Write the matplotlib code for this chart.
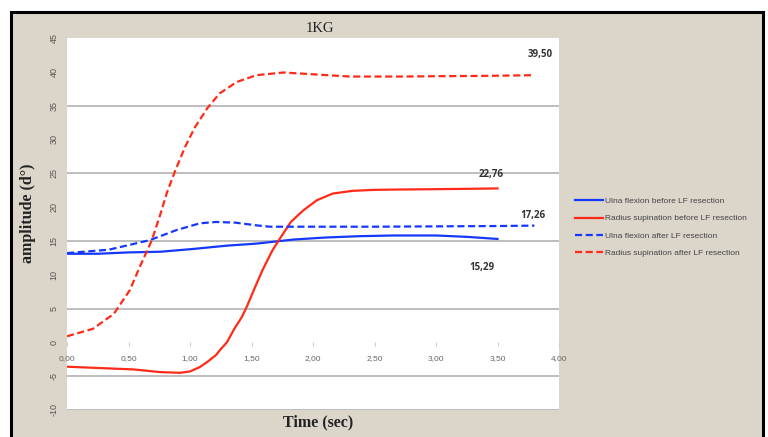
import matplotlib
matplotlib.use("Agg")
import matplotlib.pyplot as plt
from matplotlib.patches import Rectangle
from matplotlib.ticker import FuncFormatter

plt.rcParams["axes.unicode_minus"] = False

# series (time in sec, amplitude in degrees)
ulna_before_t = [0, 0.25, 0.5, 0.76, 1.02, 1.30, 1.54, 1.84, 2.1, 2.38, 2.65, 3.0, 3.25, 3.5]
ulna_before = [13.1, 13.1, 13.3, 13.4, 13.8, 14.3, 14.6, 15.2, 15.5, 15.7, 15.8, 15.8, 15.6, 15.29]

radius_before_t = [0, 0.27, 0.54, 0.76, 0.92, 1.0, 1.08, 1.14, 1.21, 1.25, 1.30, 1.36, 1.42,
                   1.46, 1.53, 1.59, 1.67, 1.74, 1.82, 1.92, 2.03, 2.16, 2.32, 2.5, 2.71,
                   3.0, 3.25, 3.5]
radius_before = [-3.6, -3.8, -4.0, -4.4, -4.5, -4.3, -3.65, -2.9, -1.9, -1.0, 0.0, 2.0, 3.7,
                 5.2, 8.2, 10.7, 13.6, 15.6, 17.8, 19.5, 21.0, 22.0, 22.4, 22.55, 22.6,
                 22.65, 22.7, 22.76]

ulna_after_t = [0, 0.34, 0.67, 0.89, 1.08, 1.21, 1.37, 1.54, 1.65, 2.0, 2.5, 3.0, 3.5, 3.8]
ulna_after = [13.2, 13.7, 15.1, 16.6, 17.6, 17.8, 17.7, 17.3, 17.1,
              17.1, 17.1, 17.15, 17.2, 17.26]

radius_after_t = [0, 0.21, 0.38, 0.51, 0.59, 0.69, 0.76, 0.81, 0.88, 0.96, 1.04, 1.14, 1.24,
                  1.38, 1.54, 1.76, 2.03, 2.3, 2.71, 3.0, 3.4, 3.79]
radius_after = [0.9, 2.0, 4.2, 7.7, 11.1, 15.1, 19.0, 22.0, 25.4, 28.9, 31.8, 34.6, 36.8,
                38.5, 39.5, 39.9, 39.6, 39.3, 39.3, 39.35, 39.4, 39.5]

labels = ["Ulna flexion before LF resection", "Radius supination before LF resection",
          "Ulna flexion after LF resection", "Radius supination after LF resection"]

# end values written next to the curves: (text, x, y)
end_labels = [("39,50", 3.85, 42.5), ("22,76", 3.45, 24.8),
              ("17,26", 3.79, 18.8), ("15,29", 3.37, 11.1)]

x_ticks = [0, 0.5, 1.0, 1.5, 2.0, 2.5, 3.0, 3.5, 4.0]
y_ticks = [-10, -5, 0, 5, 10, 15, 20, 25, 30, 35, 40, 45]
grid_lines = [-10, -5, 5, 15, 25, 35]

BLUE = "#1538ff"
RED = "#ff2a17"
BEIGE = "#dcd5ca"

fig = plt.figure(figsize=(7.68, 4.37), dpi=100)
fig.patch.set_facecolor("white")

# textured-paper panel with black frame
frame = Rectangle((11 / 768, -0.1), (763 - 11) / 768, 1 - 12 / 437 + 0.1,
                  transform=fig.transFigure, facecolor=BEIGE, edgecolor="black",
                  linewidth=2.2, zorder=-5)
fig.patches.append(frame)

ax = fig.add_axes([67 / 768, 1 - 410 / 437, (559 - 67) / 768, (410 - 38) / 437])
ax.set_zorder(2)
ax.set_facecolor("white")
ax.set_xlim(0, 4)
ax.set_ylim(-10, 45)

for g in grid_lines:
    ax.axhline(g, color="#b9b9b9", lw=1.3, zorder=1)

dash = (0, (3.2, 1.6))
ax.plot(ulna_before_t, ulna_before, color=BLUE, lw=1.6, label=labels[0], zorder=3)
ax.plot(radius_before_t, radius_before, color=RED, lw=1.6, label=labels[1], zorder=3)
ax.plot(ulna_after_t, ulna_after, color=BLUE, lw=1.6, ls=dash, label=labels[2], zorder=3)
ax.plot(radius_after_t, radius_after, color=RED, lw=1.6, ls=dash, label=labels[3], zorder=3)

for txt, x, y in end_labels:
    ax.text(x, y, txt, ha="center", va="center", fontsize=7, fontweight="bold",
            color="#333333", family="Open Sans", clip_on=False)

for s in ax.spines.values():
    s.set_visible(False)
ax.spines["bottom"].set_position(("data", 0))

ax.set_xticks(x_ticks)
ax.xaxis.set_major_formatter(FuncFormatter(lambda v, p: f"{v:.2f}".replace(".", ",")))
ax.tick_params(axis="x", length=3, color="#cccccc", pad=6, labelsize=6, labelcolor="#666666")
ax.set_yticks(y_ticks)
ax.tick_params(axis="y", length=0, pad=6, labelsize=6.5, labelcolor="#555555")
for lab in ax.get_yticklabels():
    lab.set_rotation(90)
    lab.set_va("center")
for lab in ax.get_xticklabels() + ax.get_yticklabels():
    lab.set_family("Liberation Sans")

fig.text(320 / 768, 1 - 29 / 437, "1KG", ha="center", va="center",
         family="Liberation Serif", fontsize=10.5, color="#222222")
fig.text(28 / 768, 1 - 213 / 437, "amplitude (d°)", ha="center", va="center", rotation=90,
         family="Liberation Serif", fontsize=11.5, fontweight="bold", color="#222222")
fig.text(318 / 768, 1 - 422 / 437, "Time (sec)", ha="center", va="center",
         family="Liberation Serif", fontsize=11.5, fontweight="bold", color="#222222")

leg = fig.legend(loc="upper left", bbox_to_anchor=(571 / 768, 1 - 193 / 437),
                 frameon=False, prop={"family": "Liberation Sans", "size": 6},
                 handlelength=3.3, handletextpad=0.25, labelspacing=1.15, borderpad=0)
for t in leg.get_texts():
    t.set_color("#444444")

fig.savefig("out.png", dpi=100)
